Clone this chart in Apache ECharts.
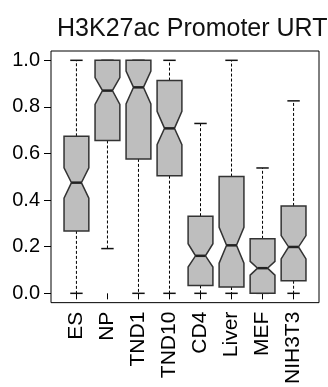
<!DOCTYPE html>
<html>
<head>
<meta charset="utf-8">
<script src="https://cdn.jsdelivr.net/npm/echarts@6/dist/echarts.min.js"></script>
<style>html,body{margin:0;padding:0;background:#fff}#c{width:328px;height:387px}</style>
</head>
<body>
<div id="c"></div>
<script>
const categories = ['ES','NP','TND1','TND10','CD4','Liver','MEF','NIH3T3'];
const whiskerLow = [0.0, 0.192, 0.0, 0.0, 0.0, 0.0, 0.0, 0.0];
const q1         = [0.268, 0.656, 0.577, 0.505, 0.034, 0.027, 0.0, 0.054];
const notchLow   = [0.408, 0.811, 0.813, 0.638, 0.113, 0.129, 0.078, 0.148];
const median     = [0.475, 0.870, 0.884, 0.708, 0.161, 0.206, 0.108, 0.199];
const notchHigh  = [0.539, 0.926, 0.954, 0.781, 0.213, 0.283, 0.137, 0.248];
const q3         = [0.674, 1.0, 1.0, 0.913, 0.331, 0.501, 0.234, 0.375];
const whiskerHigh= [1.0, 1.0, 1.0, 1.0, 0.729, 1.0, 0.538, 0.826];
const yTicks = [0, 0.2, 0.4, 0.6, 0.8, 1.0];
const positions = categories.map((c, i) => i + 1);

const data = categories.map((c, i) => [positions[i], whiskerLow[i], q1[i], notchLow[i], median[i], notchHigh[i], q3[i], whiskerHigh[i]]);

const FONT = '"Liberation Sans", Arial, sans-serif';
const chart = echarts.init(document.getElementById('c'), null, {renderer: 'canvas'});

function renderItem(params, api) {
  const x = api.value(0);
  const p = k => api.coord([x, api.value(k)]);
  const cx = p(4)[0];
  const w = api.size([0.8, 0])[0] / 2;
  const f = 0.4;
  const yWl = p(1)[1], yQ1 = p(2)[1], yNl = p(3)[1], yMed = p(4)[1], yNh = p(5)[1], yQ3 = p(6)[1], yWh = p(7)[1];
  const dash = {stroke: '#000', lineWidth: 1, lineDash: [3, 2]};
  const solid = {stroke: '#111', lineWidth: 1.5};
  return {
    type: 'group',
    children: [
      {type: 'line', shape: {x1: cx, y1: yQ3, x2: cx, y2: yWh}, style: dash},
      {type: 'line', shape: {x1: cx, y1: yQ1, x2: cx, y2: yWl}, style: dash},
      {type: 'line', shape: {x1: cx - w / 2, y1: yWh, x2: cx + w / 2, y2: yWh}, style: solid},
      {type: 'line', shape: {x1: cx - w / 2, y1: yWl, x2: cx + w / 2, y2: yWl}, style: solid},
      {type: 'polygon', shape: {points: [
        [cx - w, yQ1], [cx - w, yNl], [cx - w * f, yMed], [cx - w, yNh], [cx - w, yQ3],
        [cx + w, yQ3], [cx + w, yNh], [cx + w * f, yMed], [cx + w, yNl], [cx + w, yQ1]
      ]}, style: {fill: '#bebebe', stroke: '#333', lineWidth: 1.5, lineJoin: 'miter'}},
      {type: 'line', shape: {x1: cx - w * f, y1: yMed, x2: cx + w * f, y2: yMed}, style: {stroke: '#222', lineWidth: 2.5}}
    ]
  };
}

chart.setOption({
  animation: false,
  backgroundColor: '#fff',
  title: {
    text: 'H3K27ac Promoter URT',
    left: 52, top: 12,
    textStyle: {fontFamily: FONT, fontSize: 25, fontWeight: 'normal', color: '#111'}
  },
  grid: {left: 51, right: 9, top: 51, bottom: 80, show: true, borderColor: '#000', borderWidth: 1, backgroundColor: 'transparent'},
  xAxis: {
    type: 'value', min: 0.18, max: 8.82,
    axisLine: {show: false},
    splitLine: {show: false},
    axisTick: {show: true, length: 6, customValues: positions, lineStyle: {color: '#000'}},
    axisLabel: {
      customValues: positions, rotate: 90, margin: 9,
      formatter: v => categories[Math.round(v) - 1] || '',
      fontFamily: FONT, fontSize: 21, color: '#000'
    }
  },
  yAxis: {
    type: 'value', min: -0.04, max: 1.04,
    axisLine: {show: false},
    splitLine: {show: false},
    axisTick: {show: true, length: 7, customValues: yTicks, lineStyle: {color: '#000'}},
    axisLabel: {
      customValues: yTicks, margin: 11,
      formatter: v => v.toFixed(1),
      fontFamily: FONT, fontSize: 20, color: '#000'
    }
  },
  series: [{
    type: 'custom',
    renderItem: renderItem,
    encode: {x: 0, y: [1, 2, 3, 4, 5, 6, 7]},
    data: data,
    clip: false
  }]
});
</script>
</body>
</html>
